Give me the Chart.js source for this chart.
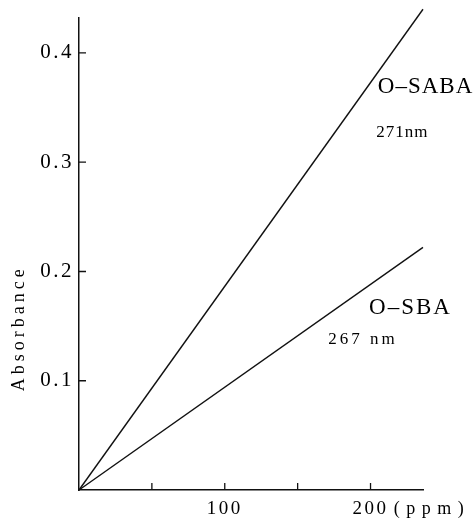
<!DOCTYPE html>
<html>
<head>
<meta charset="utf-8">
<script src="https://cdn.jsdelivr.net/npm/chart.js@4"></script>
<style>
  html, body { margin: 0; padding: 0; background: #fff; }
  #wrap { width: 475px; height: 520px; }
</style>
</head>
<body>
<div id="wrap"><canvas id="myChart"></canvas></div>
<script>
  // concentration (ppm) vs absorbance, two straight calibration lines
  const concentration = [0, 236];
  const sabaAbsorbance = [0, 0.44];   // O-SABA at 271 nm
  const sbaAbsorbance = [0, 0.222];   // O-SBA at 267 nm
  const xTicks = [50, 100, 150, 200];
  const yTicks = [0.1, 0.2, 0.3, 0.4];

  const serif = 'Liberation Serif';

  function drawText(ctx, text, px, py, size, spacing) {
    ctx.font = size + 'px "' + serif + '"';
    ctx.letterSpacing = spacing + 'px';
    ctx.fillText(text, px, py);
  }

  const paperPlugin = {
    id: 'paper',
    beforeDraw(chart) {
      chart.ctx.letterSpacing = '2.5px';
    },
    afterDraw(chart) {
      const { ctx, scales: { x, y } } = chart;
      ctx.save();
      // inward tick marks
      ctx.strokeStyle = '#111';
      ctx.lineWidth = 1.3;
      ctx.beginPath();
      xTicks.forEach(v => {
        const px = x.getPixelForValue(v);
        ctx.moveTo(px, y.bottom);
        ctx.lineTo(px, y.bottom - 7);
      });
      yTicks.forEach(v => {
        const py = y.getPixelForValue(v);
        ctx.moveTo(x.left, py);
        ctx.lineTo(x.left + 7, py);
      });
      ctx.stroke();

      ctx.fillStyle = '#000';
      ctx.textAlign = 'left';
      ctx.textBaseline = 'alphabetic';
      drawText(ctx, 'O–SABA', x.getPixelForValue(205), y.getPixelForValue(0.363), 23, 1);
      drawText(ctx, '271nm', x.getPixelForValue(204), y.getPixelForValue(0.323), 17, 1);
      drawText(ctx, 'O–SBA', x.getPixelForValue(199), y.getPixelForValue(0.161), 23, 2);
      drawText(ctx, '267 nm', x.getPixelForValue(171), y.getPixelForValue(0.134), 17, 3);

      // unit after the 200 label
      drawText(ctx, '(ppm)', x.getPixelForValue(216), y.bottom + 24, 18, 6.5);

      // y title
      ctx.translate(19, y.getPixelForValue(0.148));
      ctx.rotate(-Math.PI / 2);
      ctx.textAlign = 'center';
      ctx.textBaseline = 'middle';
      drawText(ctx, 'Absorbance', 0, 0, 18, 4);
      ctx.restore();
    }
  };

  const ctx = document.getElementById('myChart').getContext('2d');

  const myChart = new Chart(ctx, {
    type: 'line',
    data: {
      datasets: [
        {
          label: 'O-SABA',
          data: concentration.map((c, i) => ({ x: c, y: sabaAbsorbance[i] })),
          borderColor: '#111',
          borderWidth: 1.4,
          pointRadius: 0,
          clip: false,
          fill: false
        },
        {
          label: 'O-SBA',
          data: concentration.map((c, i) => ({ x: c, y: sbaAbsorbance[i] })),
          borderColor: '#111',
          borderWidth: 1.4,
          pointRadius: 0,
          clip: false,
          fill: false
        }
      ]
    },
    options: {
      responsive: true,
      maintainAspectRatio: false,
      animation: false,
      layout: { padding: { top: 18, right: 52, bottom: 6, left: 0 } },
      plugins: {
        legend: { display: false },
        tooltip: { enabled: false }
      },
      scales: {
        x: {
          type: 'linear',
          min: 0,
          max: 236,
          afterBuildTicks: s => { s.ticks = xTicks.map(v => ({ value: v })); },
          afterFit: s => { s.height = 24; },
          grid: { display: true, drawOnChartArea: false, drawTicks: false },
          border: { display: true, color: '#111', width: 1.5 },
          ticks: {
            padding: 8,
            color: '#000',
            font: { family: serif, size: 19 },
            callback: v => (v % 100 === 0 ? String(v) : '')
          }
        },
        y: {
          min: 0,
          max: 0.432,
          afterBuildTicks: s => { s.ticks = yTicks.map(v => ({ value: v })); },
          afterFit: s => { s.width = 79; },
          grid: { display: true, drawOnChartArea: false, drawTicks: false },
          border: { display: true, color: '#111', width: 1.5 },
          ticks: {
            padding: 5,
            color: '#000',
            font: { family: serif, size: 21 },
            callback: v => v.toFixed(1)
          }
        }
      }
    },
    plugins: [paperPlugin]
  });
</script>
</body>
</html>
